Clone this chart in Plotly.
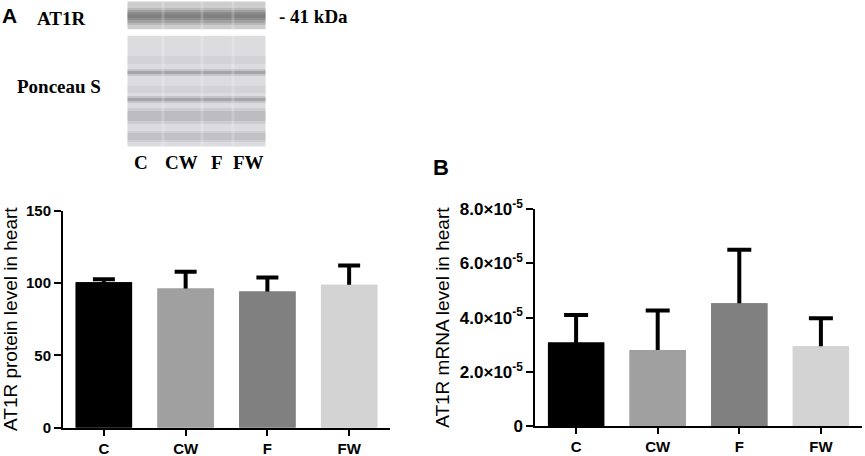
import plotly.graph_objects as go

# ---------------- data ----------------
groups = ["C", "CW", "F", "FW"]
protein_mean = [100.5, 96.2, 94.1, 98.8]
protein_err = [2.2, 11.6, 9.8, 13.4]
mrna_mean = [3.08e-5, 2.81e-5, 4.53e-5, 2.94e-5]
mrna_err = [1.02e-5, 1.45e-5, 1.98e-5, 1.04e-5]
bar_colors = ["#000000", "#a0a0a0", "#808080", "#d3d3d3"]
protein_ticks = [0, 50, 100, 150]
mrna_tickvals = [0, 2e-5, 4e-5, 6e-5, 8e-5]
mrna_ticktext = ["0", "2.0×10<sup>-5</sup>", "4.0×10<sup>-5</sup>",
                 "6.0×10<sup>-5</sup>", "8.0×10<sup>-5</sup>"]

W, H = 865, 456


def px(x):
    return x / W


def py(y):
    return 1 - y / H


fig = go.Figure()

# bars carrying symmetric error bars; a second copy of the bars drawn on top
# hides the lower half, leaving GraphPad-style upward-only error bars
for xa, ya, mean, err, cap in [("x", "y", protein_mean, protein_err, 11),
                               ("x2", "y2", mrna_mean, mrna_err, 12)]:
    fig.add_trace(go.Bar(
        x=groups, y=mean, marker_color=bar_colors, marker_line_width=0,
        width=0.69, xaxis=xa, yaxis=ya,
        error_y=dict(type="data", array=err, symmetric=True,
                     color="#000000", thickness=4, width=cap),
        showlegend=False, hoverinfo="skip"))
    fig.add_trace(go.Bar(
        x=groups, y=mean, marker_color=bar_colors, marker_line_width=0,
        width=0.69, xaxis=xa, yaxis=ya, showlegend=False))

axis_font = dict(family="Liberation Sans, Arial", size=15, color="#000000", weight="bold")
title_font = dict(family="Liberation Sans, Arial", size=19, color="#000000")

common_x = dict(type="category", range=[-0.5, 3.5], showline=True, linewidth=2,
                linecolor="#000000", ticks="outside", ticklen=6, tickwidth=2,
                tickcolor="#000000", showgrid=False, zeroline=False,
                tickfont=axis_font, fixedrange=True)
common_y = dict(showline=True, linewidth=2, linecolor="#000000", ticks="outside",
                ticklen=7, tickwidth=2, tickcolor="#000000", showgrid=False,
                zeroline=False, tickfont=axis_font, title_font=title_font)

# ---------------- blot decoration (western blot approximation) ----------------
shapes = []
blot_x0, blot_x1 = 127.5, 265.5
shapes.append(dict(type="rect", xref="paper", yref="paper", x0=px(blot_x0), x1=px(blot_x1),
                   y0=py(29.5), y1=py(1.5), fillcolor="#cdcdcd", line_width=0, layer="below"))
at1r_band = [(8, 25, "rgba(100,100,100,0.2)"), (10, 23, "rgba(90,90,90,0.25)"),
             (12, 20, "rgba(80,80,80,0.25)"), (14, 18, "rgba(70,70,70,0.15)")]
for y0, y1, c in at1r_band:
    shapes.append(dict(type="rect", xref="paper", yref="paper", x0=px(blot_x0), x1=px(blot_x1),
                       y0=py(y1), y1=py(y0), fillcolor=c, line_width=0, layer="below"))
shapes.append(dict(type="rect", xref="paper", yref="paper", x0=px(blot_x0), x1=px(blot_x1),
                   y0=py(146.5), y1=py(35.5), fillcolor="#dcdce0", line_width=0, layer="below"))
ponceau_bands = [(56, 64, "rgba(130,130,140,0.10)"), (69, 76, "rgba(100,100,110,0.2)"),
                 (71, 74, "rgba(90,90,100,0.3)"), (86, 93, "rgba(130,130,140,0.10)"),
                 (96, 103, "rgba(100,100,110,0.2)"), (98, 101, "rgba(90,90,100,0.3)"),
                 (108, 124, "rgba(120,120,130,0.15)"), (111, 121, "rgba(110,110,120,0.18)"),
                 (131, 142, "rgba(130,130,140,0.15)"), (133, 140, "rgba(120,120,130,0.15)")]
for y0, y1, c in ponceau_bands:
    shapes.append(dict(type="rect", xref="paper", yref="paper", x0=px(blot_x0), x1=px(blot_x1),
                       y0=py(y1), y1=py(y0), fillcolor=c, line_width=0, layer="below"))
lane_gaps = [163, 202, 233]
for gx in lane_gaps:
    shapes.append(dict(type="rect", xref="paper", yref="paper", x0=px(gx - 1.5), x1=px(gx + 1.5),
                       y0=py(146.5), y1=py(1.5), fillcolor="rgba(255,255,255,0.2)",
                       line_width=0, layer="below"))
shapes.append(dict(type="rect", xref="paper", yref="paper", x0=px(blot_x0 - 1), x1=px(blot_x1 + 1),
                   y0=py(35.5), y1=py(29.5), fillcolor="#ffffff", line_width=0, layer="below"))

serif = dict(family="Liberation Serif, Times New Roman", size=19, color="#000000")
annotations = [
    dict(text="<b>A</b>", x=px(0), y=py(15), xanchor="left", yanchor="middle",
         font=dict(family="Liberation Sans, Arial", size=21, color="#000000")),
    dict(text="<b>B</b>", x=px(431), y=py(167), xanchor="left", yanchor="middle",
         font=dict(family="Liberation Sans, Arial", size=22, color="#000000")),
    dict(text="<b>AT1R</b>", x=px(35), y=py(18), xanchor="left", yanchor="middle", font=serif),
    dict(text="<b>- 41 kDa</b>", x=px(277), y=py(16), xanchor="left", yanchor="middle", font=serif),
    dict(text="<b>Ponceau S</b>", x=px(15), y=py(87), xanchor="left", yanchor="middle", font=serif),
]
lane_labels = [("C", 141), ("CW", 181), ("F", 217), ("FW", 248)]
for t, lx in lane_labels:
    annotations.append(dict(text="<b>%s</b>" % t, x=px(lx), y=py(162), xanchor="center",
                            yanchor="middle", font=serif))
for a in annotations:
    a.update(xref="paper", yref="paper", showarrow=False)

fig.update_layout(
    width=W, height=H, margin=dict(l=0, r=0, t=0, b=0, autoexpand=False),
    paper_bgcolor="#ffffff", plot_bgcolor="#ffffff",
    barmode="overlay",
    xaxis=dict(common_x, domain=[px(63), px(390)], anchor="y"),
    yaxis=dict(common_y, domain=[py(427.7), py(210.7)], range=[0, 150], tickvals=protein_ticks,
               title=dict(text="AT1R protein level in heart", standoff=6), anchor="x"),
    xaxis2=dict(common_x, domain=[px(535.3), px(861.7)], anchor="y2"),
    yaxis2=dict(common_y, domain=[py(426), py(209.3)], range=[0, 8e-5], tickvals=mrna_tickvals,
                ticktext=["<b>%s</b>" % t for t in mrna_ticktext],
                tickfont=dict(axis_font, size=17),
                title=dict(text="AT1R mRNA level in heart", standoff=5), anchor="x2"),
    shapes=shapes, annotations=annotations,
)

fig.write_html("out.html", config={"displayModeBar": False},
               post_script="document.body.style.margin='0px';")
